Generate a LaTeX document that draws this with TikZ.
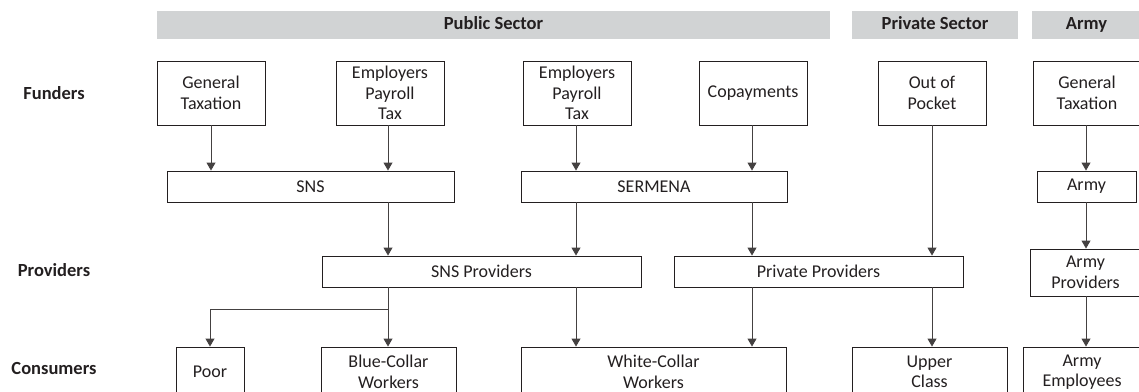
\documentclass[tikz,border=0pt]{standalone}
\usepackage{fontspec}
\setmainfont{Carlito}
\usetikzlibrary{arrows.meta}
\definecolor{bandgray}{HTML}{D1D3D4}
\definecolor{ink}{HTML}{231F20}
\newcommand\boxat[6]{\node[box,minimum width={(#4-#2)*1pt},minimum height={(#5-#3)*1pt}] (#1) at ({(#2+#4)/2},{(#3+#5)/2}) {#6};}
\newcommand\bandat[6]{\node[band,minimum width={(#4-#2)*1pt},minimum height={(#5-#3)*1pt}] (#1) at ({(#2+#4)/2},{(#3+#5)/2}) {#6};}
\begin{document}
\begin{tikzpicture}[x=1pt,y=-1pt,
  box/.style={draw=ink, line width=0.9pt, inner sep=0pt, align=center, text=ink, font=\fontsize{18}{20.5}\selectfont},
  band/.style={fill=bandgray, inner sep=0pt, text=ink, text height=13pt, text depth=4pt, font=\bfseries\fontsize{18.5}{22}\selectfont},
  rowlabel/.style={text=ink, font=\bfseries\fontsize{18.5}{22}\selectfont},
  conn/.style={draw=ink!85, line width=0.9pt, -{Triangle[length=8pt,width=9pt]}}
]
\useasboundingbox (0,0) rectangle (1139,391);
\clip (0,0) rectangle (1139,391);
% bands
\bandat{pub}{157}{11}{830}{39}{Public Sector}
\bandat{priv}{852}{11}{1018}{39}{Private Sector}
\bandat{army}{1032}{11}{1141}{39}{Army}
% row labels
\node[rowlabel] (lf) at (54,93) {Funders};
\node[rowlabel] (lp) at (54,270) {Providers};
\node[rowlabel] (lc) at (54,368) {Consumers};
% funders
\boxat{gt}{157}{61}{265}{125}{General\\Taxation}
\boxat{ep1}{336}{61}{444}{125}{Employers\\Payroll\\Tax}
\boxat{ep2}{523}{61}{631}{125}{Employers\\Payroll\\Tax}
\boxat{cop}{699}{61}{807}{125}{Copayments}
\boxat{oop}{878}{61}{986}{125}{Out of\\Pocket}
\boxat{agt}{1033}{61}{1141}{125}{General\\Taxation}
% second row
\boxat{sns}{167}{171}{454}{202}{SNS}
\boxat{ser}{521}{171}{787}{202}{SERMENA}
\boxat{arm}{1037}{171}{1136}{202}{Army}
% providers
\boxat{snsp}{322}{256}{641}{287}{SNS Providers}
\boxat{prp}{674}{256}{963}{287}{Private Providers}
\boxat{arp}{1030}{249}{1141}{296}{Army\\Providers}
% consumers
\boxat{poor}{176}{347}{244}{397}{Poor}
\boxat{blue}{321}{347}{456}{397}{Blue-Collar\\Workers}
\boxat{white}{521}{347}{786}{397}{White-Collar\\Workers}
\boxat{upper}{852}{347}{1007}{397}{Upper\\Class}
\boxat{arme}{1023}{347}{1141}{397}{Army\\Employees}
% x positions
\coordinate (c1) at (388,0);
\coordinate (c2) at (576,0);
\coordinate (c3) at (752,0);
\coordinate (c4) at (932,0);
\coordinate (c5) at (1086,0);
% connectors
\draw[conn] (gt.south) -- (gt.south |- sns.north);
\draw[conn] (ep1.south -| c1) -- (sns.north -| c1);
\draw[conn] (ep2.south -| c2) -- (ser.north -| c2);
\draw[conn] (cop.south -| c3) -- (ser.north -| c3);
\draw[conn] (agt.south -| c5) -- (arm.north -| c5);
\draw[conn] (sns.south -| c1) -- (snsp.north -| c1);
\draw[conn] (ser.south -| c2) -- (snsp.north -| c2);
\draw[conn] (ser.south -| c3) -- (prp.north -| c3);
\draw[conn] (oop.south -| c4) -- (prp.north -| c4);
\draw[conn] (arm.south -| c5) -- (arp.north -| c5);
\draw[conn] (snsp.south -| c1) -- ++(0,22) -| (poor.north);
\draw[conn] (snsp.south -| c1) -- (blue.north -| c1);
\draw[conn] (snsp.south -| c2) -- (white.north -| c2);
\draw[conn] (prp.south -| c3) -- (white.north -| c3);
\draw[conn] (prp.south -| c4) -- (upper.north -| c4);
\draw[conn] (arp.south -| c5) -- (arme.north -| c5);
\end{tikzpicture}
\end{document}
